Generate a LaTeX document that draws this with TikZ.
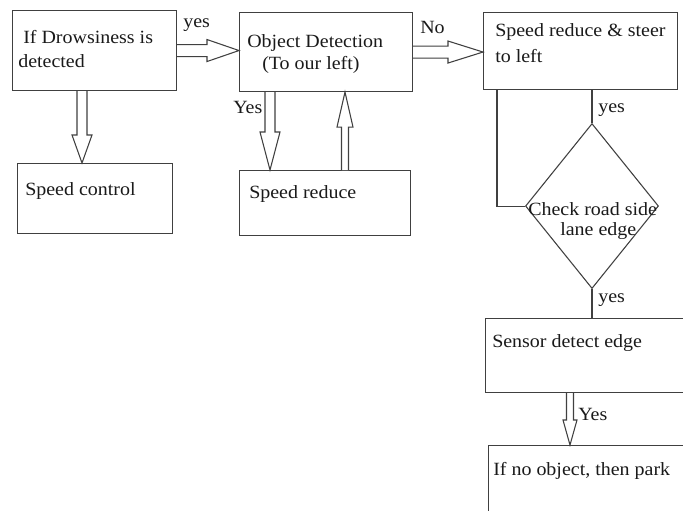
\documentclass[tikz,border=0pt]{standalone}
\usepackage{fontspec}
\setmainfont[FakeStretch=1.07]{Liberation Serif}
\usetikzlibrary{calc,shapes.geometric}
\newdimen\pxu \pxu=0.75pt
\definecolor{ln}{HTML}{404040}
\definecolor{tx}{HTML}{1A1A1A}
\tikzset{
  box/.style={draw=ln, line width=0.8pt, inner sep=0pt, anchor=north west},
  txt/.style={anchor=base west, inner sep=0pt, text=tx, font=\fontsize{14}{17}\selectfont},
  conn/.style={draw=ln, line width=0.8pt},
  hollow/.style={draw=ln, line width=0.8pt, line join=miter, fill=white},
}
% #1 start, #2 tip, #3 shaft half-width, #4 head half-width, #5 head length (px)
\newcommand\hollowarr[5]{%
  \draw[hollow] let \p1=#1, \p2=#2,
      \n1={atan2(\y2-\y1,\x2-\x1)}, \n2={veclen(\x2-\x1,\y2-\y1)} in
    [shift={(\p1)}, rotate=\n1]
    (0pt,#3\pxu) -- ({\n2*1pt-#5\pxu},#3\pxu) -- ({\n2*1pt-#5\pxu},#4\pxu)
    -- ({\n2*1pt},0pt) -- ({\n2*1pt-#5\pxu},-#4\pxu) -- ({\n2*1pt-#5\pxu},-#3\pxu)
    -- (0pt,-#3\pxu);}
\begin{document}
\begin{tikzpicture}[x=0.75pt, y=-0.75pt]
\useasboundingbox (0,0) rectangle (683,511);
\fill[white] (0,0) rectangle (683,511);
\clip (0,0) rectangle (683,511);

% boxes
\node[box, minimum width=164\pxu, minimum height=80\pxu] (b1) at (12,10) {};
\node[box, minimum width=173\pxu, minimum height=79\pxu] (b2) at (239,12) {};
\node[box, minimum width=194\pxu, minimum height=77\pxu] (b3) at (483,12) {};
\node[box, minimum width=155\pxu, minimum height=70\pxu] (sc) at (17,163) {};
\node[box, minimum width=171\pxu, minimum height=65\pxu] (sr) at (239,170) {};
\node[draw=ln, line width=0.8pt, diamond, inner sep=0pt, minimum width=133\pxu,
      minimum height=165\pxu, anchor=north] (dia) at (592,123) {};
\node[box, minimum width=230\pxu, minimum height=74\pxu] (sd) at (485,318) {};
\node[box, minimum width=230\pxu, minimum height=90\pxu] (pk) at (488,445) {};

% box texts
\node[txt] (t1a) at (23,43) {If Drowsiness is};
\node[txt] (t1b) at (18,67) {detected};
\node[txt] (t2a) at (247,47) {Object Detection};
\node[txt] (t2b) at (262,69) {(To our left)};
\node[txt] (t3a) at (495,36) {Speed reduce \& steer};
\node[txt] (t3b) at (495,62) {to left};
\node[txt] (tsc) at (25,195) {Speed control};
\node[txt] (tsr) at (249,198) {Speed reduce};
\node[txt] (tda) at (528,215) {Check road side};
\node[txt] (tdb) at (560,235) {lane edge};
\node[txt] (tsd) at (492,347) {Sensor detect edge};
\node[txt] (tpk) at (493,475) {If no object, then park};

% connector labels
\node[txt] (l1) at (183,27) {yes};
\node[txt] (l2) at (420,33) {No};
\node[txt] (l3) at (233,113) {Yes};
\node[txt] (l4) at (598,112) {yes};
\node[txt] (l5) at (598,302) {yes};
\node[txt] (l6) at (578,420) {Yes};

% hollow arrows
\hollowarr{(b1.east)}{(b1.east -| b2.west)}{6}{11}{32}
\hollowarr{(b2.east)}{(b2.east -| b3.west)}{6}{11}{35}
\coordinate (a3) at ($(b1.south west)+(70,0)$);
\hollowarr{(a3)}{(a3 |- sc.north)}{5}{10}{28}
\coordinate (a4) at ($(b2.south west)+(31,0)$);
\hollowarr{(a4)}{(a4 |- sr.north)}{5}{10}{38}
\coordinate (a5) at ($(sr.north west)+(106,0)$);
\hollowarr{(a5)}{(a5 |- b2.south)}{3.5}{8}{35}
\coordinate (a6) at ($(sd.south west)+(85,0)$);
\hollowarr{(a6)}{(a6 |- pk.north)}{3.5}{7}{25}

% plain lines
\draw[conn] (dia.north |- b3.south) -- (dia.north);
\coordinate (lf) at ($(b3.south west)+(14,0)$);
\draw[conn] (lf) |- (dia.west);
\draw[conn] (dia.south) -- (dia.south |- sd.north);
\end{tikzpicture}
\end{document}
